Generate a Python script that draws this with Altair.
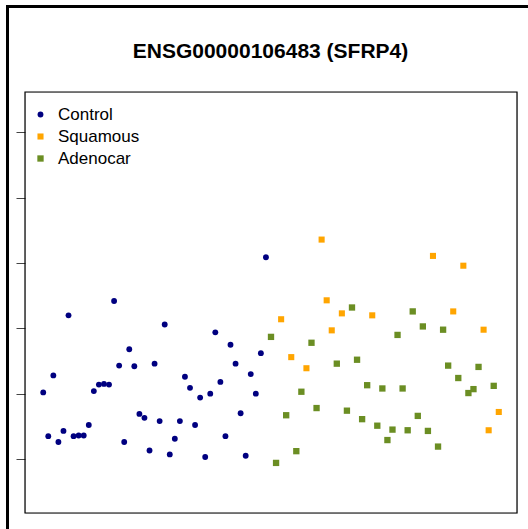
import altair as alt
import pandas as pd

control_vals = [7.02, 6.35, 7.28, 6.26, 6.43, 8.20, 6.35, 6.36, 6.36, 6.52,
                7.04, 7.14, 7.15, 7.14, 8.42, 7.43, 6.26, 7.68, 7.42, 6.69,
                6.63, 6.13, 7.46, 6.58, 8.06, 6.07, 6.31, 6.58, 7.26, 7.09,
                6.52, 6.94, 6.03, 7.00, 7.94, 7.18, 6.35, 7.75, 7.46, 6.70,
                6.05, 7.30, 7.00, 7.62, 9.09]

tumor_groups = ["G", "G", "O", "G", "O", "G", "G", "O", "G", "G",
                "O", "O", "O", "G", "O", "G", "G", "G", "G", "G",
                "O", "G", "G", "G", "G", "G", "G", "G", "G", "G",
                "G", "G", "O", "G", "G", "G", "O", "G", "O", "G",
                "G", "G", "O", "O", "G", "O"]
tumor_vals = [7.87, 5.94, 8.14, 6.67, 7.56, 6.12, 7.03, 7.39, 7.78, 6.78,
              9.36, 8.43, 7.97, 7.46, 8.23, 6.74, 8.32, 7.52, 6.61, 7.13,
              8.20, 6.51, 7.08, 6.29, 6.45, 7.90, 7.08, 6.44, 8.26, 6.66,
              8.03, 6.43, 9.11, 6.19, 7.98, 7.43, 8.26, 7.24, 8.96, 7.01,
              7.07, 7.41, 7.98, 6.44, 7.12, 6.72]

categories = ["Control", "Squamous", "Adenocar"]
colors = ["#000080", "#FFA500", "#6B8E23"]
code_map = {"G": "Adenocar", "O": "Squamous"}

rows = []
for i, v in enumerate(control_vals):
    rows.append({"idx": i + 1, "value": v, "group": "Control"})
n0 = len(control_vals)
for j, (g, v) in enumerate(zip(tumor_groups, tumor_vals)):
    rows.append({"idx": n0 + j + 1, "value": v, "group": code_map[g]})
df = pd.DataFrame(rows)

FONT = "Liberation Sans"

points = alt.Chart(df).mark_point(filled=True, opacity=1, strokeWidth=0).encode(
    x=alt.X("idx:Q", scale=alt.Scale(domain=[-2.6, 94.6], nice=False, zero=False), axis=None),
    y=alt.Y("value:Q", scale=alt.Scale(domain=[5.173, 11.62], nice=False, zero=False),
            axis=alt.Axis(values=[6, 7, 8, 9, 10, 11], labels=False, title=None, domain=False,
                          grid=False, ticks=True, tickSize=9, tickColor="#444", tickWidth=1)),
    color=alt.Color("group:N", scale=alt.Scale(domain=categories, range=colors),
                    legend=alt.Legend(title=None, orient="none", legendX=7, legendY=14,
                                      labelFont=FONT, labelFontSize=17, labelColor="black",
                                      symbolSize=40, rowPadding=4, labelOffset=9, padding=0,
                                      symbolStrokeWidth=0)),
    shape=alt.Shape("group:N", scale=alt.Scale(domain=categories, range=["circle", "square", "square"]),
                    legend=alt.Legend(title=None, orient="none", legendX=7, legendY=14)),
    size=alt.Size("group:N", scale=alt.Scale(domain=categories, range=[34, 40, 40]), legend=None),
)

title = alt.Chart(pd.DataFrame({"t": ["ENSG00000106483 (SFRP4)"]})).mark_text(
    font=FONT, fontSize=21, fontWeight="bold", color="black", baseline="middle", align="center"
).encode(text="t:N", x=alt.value(245.5), y=alt.value(-40))

box = alt.Chart(pd.DataFrame({"a": [0]})).mark_rect(fill=None, fillOpacity=0, stroke="black", strokeWidth=1.2).encode(
    x=alt.value(0), x2=alt.value(492), y=alt.value(0), y2=alt.value(421))

frame_left = alt.Chart(pd.DataFrame({"a": [0]})).mark_rule(color="black", strokeWidth=3).encode(
    x=alt.value(-17.5), y=alt.value(-87), y2=alt.value(440))
frame_top = alt.Chart(pd.DataFrame({"a": [0]})).mark_rule(color="black", strokeWidth=3).encode(
    x=alt.value(-19), x2=alt.value(510), y=alt.value(-85.5))

chart = alt.layer(frame_left, frame_top, box, title, points).properties(
    width=492, height=421,
    autosize=alt.AutoSizeParams(type="none"),
    padding={"left": 25, "top": 92, "right": 11, "bottom": 16},
).configure_view(stroke=None).configure(background="white")

chart.save("out.html", embed_options={"renderer": "svg", "actions": False})
